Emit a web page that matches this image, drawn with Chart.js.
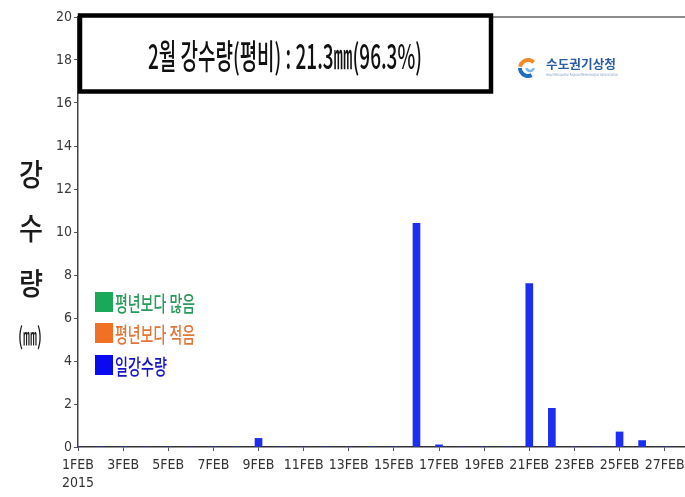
<!DOCTYPE html>
<html><head><meta charset="utf-8">
<script src="https://cdn.jsdelivr.net/npm/chart.js@4"></script>
<style>html,body{margin:0;padding:0;background:#fff;overflow:hidden}#wrap{width:685px;height:497px;position:relative}</style>
</head><body><div id="wrap"><canvas id="c" width="685" height="497"></canvas></div>
<script>
// ---- data ----
const days = [1,2,3,4,5,6,7,8,9,10,11,12,13,14,15,16,17,18,19,20,21,22,23,24,25,26,27,28];
const rain = [0,0,0,0,0,0,0,0,0.4,0,0,0,0,0,0,10.4,0.1,0,0,0,7.6,1.8,0,0,0.7,0.3,0,0];
const tickDays = [1,3,5,7,9,11,13,15,17,19,21,23,25,27];
const monthLabel = 'FEB';
const yearLabel = '2015';
const yTicks = [0,2,4,6,8,10,12,14,16,18,20];
const titleText = '2월 강수량(평비) : 21.3㎜(96.3%)';
const yTitle = ['강','수','량','(㎜)'];
const legendLabels = ['평년보다 많음','평년보다 적음','일강수량'];
const legendColors = ['#1aa85a','#f07024','#0a0af0'];
const legendTextColors = ['#2a9a5a','#e0763a','#1414c8'];
const logoText = '수도권기상청';
const logoSub = 'Seoul Metropolitan Regional Meteorological Administration';

const KR = '"Noto Sans CJK KR", sans-serif';
const NARROW = '"Liberation Sans Narrow", "DejaVu Sans Condensed", sans-serif';

function fitText(ctx, txt, x, y, w, align) {
  const m = ctx.measureText(txt).width;
  const s = w / m;
  ctx.save();
  ctx.translate(x, y);
  ctx.scale(s, 1);
  ctx.textAlign = align || 'left';
  ctx.fillText(txt, 0, 0);
  ctx.restore();
}

const deco = {
  id: 'deco',
  afterDraw(chart) {
    const ctx = chart.ctx;
    const a = chart.chartArea;
    ctx.save();
    // top grey line
    ctx.strokeStyle = '#8c8c8c'; ctx.lineWidth = 2;
    ctx.beginPath(); ctx.moveTo(490, a.top); ctx.lineTo(685, a.top); ctx.stroke();
    // title box
    ctx.fillStyle = '#fff';
    ctx.fillRect(79, 15, 413, 77);
    ctx.strokeStyle = '#000'; ctx.lineWidth = 4.5;
    ctx.strokeRect(80, 15.5, 411, 76);
    ctx.fillStyle = '#111';
    ctx.font = '500 34px ' + KR;
    ctx.textBaseline = 'middle';
    fitText(ctx, titleText, 148, 56, 274, 'left');
    // logo
    const lx = 528, ly = 68;
    ctx.lineWidth = 4;
    ctx.strokeStyle = '#f08a2a';
    ctx.beginPath(); ctx.arc(lx, ly, 8, Math.PI*1.05, Math.PI*1.75); ctx.stroke();
    ctx.strokeStyle = '#1f6fc0';
    ctx.beginPath(); ctx.arc(lx, ly, 8, Math.PI*0.35, Math.PI*1.0); ctx.stroke();
    ctx.strokeStyle = '#7fb8e8'; ctx.lineWidth = 2.5;
    ctx.beginPath(); ctx.arc(lx+2, ly-1, 4, Math.PI*0.1, Math.PI*0.9); ctx.stroke();
    ctx.fillStyle = '#2a5da8';
    ctx.font = 'bold 12px ' + KR;
    ctx.textBaseline = 'middle';
    fitText(ctx, logoText, 546, 64, 70, 'left');
    ctx.fillStyle = '#8aa0c0';
    ctx.font = '4px ' + NARROW;
    fitText(ctx, logoSub, 546, 75, 72, 'left');
    // y title
    ctx.fillStyle = '#1a1a1a';
    ctx.font = '500 30px ' + KR;
    fitText(ctx, yTitle[0], 31, 174, 24, 'center');
    fitText(ctx, yTitle[1], 31, 228, 24, 'center');
    fitText(ctx, yTitle[2], 31, 283, 24, 'center');
    ctx.font = '500 24px ' + KR;
    fitText(ctx, yTitle[3], 30, 336, 24, 'center');
    // legend
    const ly0 = [302, 333, 365];
    for (let i = 0; i < legendLabels.length; i++) {
      ctx.fillStyle = legendColors[i];
      ctx.fillRect(95, ly0[i] - 10, 18, 20);
      ctx.fillStyle = legendTextColors[i];
      ctx.font = '500 21px ' + KR;
      ctx.textBaseline = 'middle';
      const w = i < 2 ? 80 : 52;
      fitText(ctx, legendLabels[i], 115, ly0[i] + 1, w, 'left');
    }
    ctx.restore();
  }
};

new Chart(document.getElementById('c'), {
  type: 'bar',
  data: {
    datasets: [{
      data: days.map((d, i) => ({ x: d, y: rain[i] })),
      backgroundColor: '#1c2ef2',
      borderWidth: 0,
      barThickness: 7
    }]
  },
  options: {
    responsive: false,
    animation: false,
    devicePixelRatio: 1,
    layout: { padding: { left: 0, right: 0, top: 17, bottom: 0 } },
    plugins: { legend: { display: false }, tooltip: { enabled: false } },
    scales: {
      x: {
        type: 'linear', min: 1, max: 27.9, offset: false,
        afterBuildTicks: s => { s.ticks = tickDays.map(v => ({ value: v })); },
        afterFit: s => { s.height = 50; s.paddingLeft = 0; s.paddingRight = 0; },
        ticks: {
          autoSkip: false, maxRotation: 0, minRotation: 0, color: '#333', padding: 5,
          font: { family: NARROW, size: 14, lineHeight: 1.3 },
          callback: v => v === 1 ? [v + monthLabel, yearLabel] : v + monthLabel
        },
        grid: { drawOnChartArea: false, offset: false, tickLength: 4, color: '#555' },
        border: { color: '#333', width: 1.5 }
      },
      y: {
        min: 0, max: 20,
        afterBuildTicks: s => { s.ticks = yTicks.map(v => ({ value: v })); },
        afterFit: s => { s.width = 78; },
        ticks: { color: '#3a3a3a', padding: 2, font: { family: NARROW, size: 14 } },
        grid: { drawOnChartArea: false, tickLength: 4, color: '#555' },
        border: { color: '#444', width: 1.5 }
      }
    }
  },
  plugins: [deco]
});
</script>
</body></html>
